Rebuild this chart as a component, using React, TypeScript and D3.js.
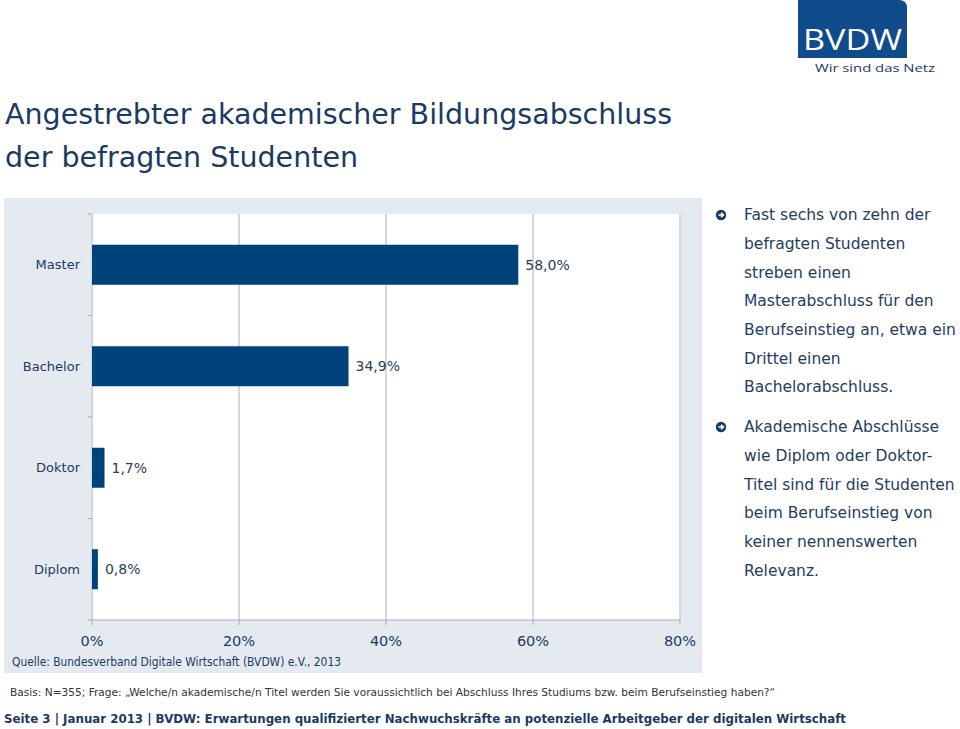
import React from "react";
import * as d3 from "d3";

const categories = ["Master", "Bachelor", "Doktor", "Diplom"];
const values = [58.0, 34.9, 1.7, 0.8];
const valueLabels = ["58,0%", "34,9%", "1,7%", "0,8%"];
const xTicks = [0, 20, 40, 60, 80];
const titleLines = ["Angestrebter akademischer Bildungsabschluss", "der befragten Studenten"];
const bullet1 = [
  "Fast sechs von zehn der",
  "befragten Studenten",
  "streben einen",
  "Masterabschluss für den",
  "Berufseinstieg an, etwa ein",
  "Drittel einen",
  "Bachelorabschluss.",
];
const bullet2 = [
  "Akademische Abschlüsse",
  "wie Diplom oder Doktor-",
  "Titel sind für die Studenten",
  "beim Berufseinstieg von",
  "keiner nennenswerten",
  "Relevanz.",
];
const sourceText = "Quelle: Bundesverband Digitale Wirtschaft (BVDW) e.V., 2013";
const basisText =
  "Basis: N=355; Frage: „Welche/n akademische/n Titel werden Sie voraussichtlich bei Abschluss Ihres Studiums bzw. beim Berufseinstieg haben?“";
const footerText =
  "Seite 3 | Januar 2013 | BVDW: Erwartungen qualifizierter Nachwuchskräfte an potenzielle Arbeitgeber der digitalen Wirtschaft";

const NAVY = "#1b3a63";
const BAR = "#00427a";
const GRID = "#a9adb2";
const PANEL = "#e5eaf0";
const FONT = "'DejaVu Sans', Verdana, sans-serif";

export default function App() {
  const plot = { left: 91, right: 681, top: 214, bottom: 620 };
  const x = d3.scaleLinear().domain([0, 80]).range([92, 680]);
  const y = d3
    .scaleBand<string>()
    .domain(categories)
    .range([plot.top, plot.bottom])
    .paddingInner(0.606)
    .paddingOuter(0.303);
  const step = y.step();
  const boundaries = d3.range(categories.length + 1).map((i) => plot.top + i * step);

  const Bullet = ({ cx, cy }: { cx: number; cy: number }) => (
    <g transform={`translate(${cx},${cy})`}>
      <circle r={5.2} fill={NAVY} />
      <path d="M-2.6,0 H2.2 M0,-2.3 L2.5,0 L0,2.3" stroke="#fff" strokeWidth={1.5} fill="none" />
    </g>
  );

  return (
    <svg
      width={960}
      height={729}
      style={{ position: "absolute", left: 0, top: 0, background: "#fff" }}
      fontFamily={FONT}
    >
      {/* Logo */}
      <path d="M798,0 H899 Q907,0 907,8 V58 H798 Z" fill="#104b8c" />
      <text x={803} y={50} fill="#fff" fontSize={30} textLength={99} lengthAdjust="spacingAndGlyphs" fontFamily="'Open Sans', 'DejaVu Sans', sans-serif">
        BVDW
      </text>
      <text x={815} y={72} fill={NAVY} fontSize={11.5} textLength={120} lengthAdjust="spacingAndGlyphs" fontFamily="'Open Sans', 'DejaVu Sans', sans-serif">
        Wir sind das Netz
      </text>

      {/* Title */}
      <text x={5} y={124} fill={NAVY} fontSize={28} textLength={667} lengthAdjust="spacingAndGlyphs">
        {titleLines[0]}
      </text>
      <text x={5} y={167} fill={NAVY} fontSize={28} textLength={353} lengthAdjust="spacingAndGlyphs">
        {titleLines[1]}
      </text>

      {/* Panel */}
      <rect x={4} y={198} width={698} height={475} fill={PANEL} />
      <rect x={plot.left} y={plot.top} width={plot.right - plot.left} height={plot.bottom - plot.top} fill="#fff" />

      {/* Gridlines */}
      {xTicks.map((t) => (
        <line key={t} x1={x(t)} x2={x(t)} y1={plot.top} y2={plot.bottom + 5} stroke={GRID} strokeWidth={1} />
      ))}
      <line x1={x(0)} x2={x(80)} y1={plot.bottom} y2={plot.bottom} stroke={GRID} strokeWidth={1} />
      {boundaries.map((b, i) => (
        <line key={i} x1={x(0) - 4} x2={x(0)} y1={b} y2={b} stroke={GRID} strokeWidth={1} />
      ))}

      {/* Bars */}
      {categories.map((c, i) => (
        <g key={c}>
          <rect x={x(0)} y={y(c)!} width={x(values[i]) - x(0)} height={y.bandwidth()} fill={BAR} />
          <text
            x={x(values[i]) + 7}
            y={y(c)! + y.bandwidth() / 2}
            dy="0.35em"
            fontSize={14}
            fill="#2c3e55"
          >
            {valueLabels[i]}
          </text>
          <text x={80} y={y(c)! + y.bandwidth() / 2} dy="0.35em" fontSize={13} fill={NAVY} textAnchor="end">
            {c}
          </text>
        </g>
      ))}

      {/* X tick labels */}
      {xTicks.map((t) => (
        <text key={t} x={x(t)} y={646} fontSize={14.5} fill={NAVY} textAnchor="middle">
          {`${t}%`}
        </text>
      ))}

      <text x={12} y={666} fontSize={12} fill={NAVY} textLength={329} lengthAdjust="spacingAndGlyphs">
        {sourceText}
      </text>

      {/* Right text */}
      <Bullet cx={721} cy={215} />
      {bullet1.map((l, i) => (
        <text key={l} x={744} y={215 + i * 28.67} dy="0.35em" fontSize={15.5} fill="#243d5e">
          {l}
        </text>
      ))}
      <Bullet cx={721} cy={427} />
      {bullet2.map((l, i) => (
        <text key={l} x={744} y={427 + i * 28.67} dy="0.35em" fontSize={15.5} fill="#243d5e">
          {l}
        </text>
      ))}

      {/* Footer */}
      <text x={10} y={696} fontSize={11} fill="#333" textLength={765} lengthAdjust="spacingAndGlyphs">
        {basisText}
      </text>
      <text x={4} y={722.5} fontSize={13} fontWeight="bold" fill={NAVY} textLength={842} lengthAdjust="spacingAndGlyphs">
        {footerText}
      </text>
    </svg>
  );
}
